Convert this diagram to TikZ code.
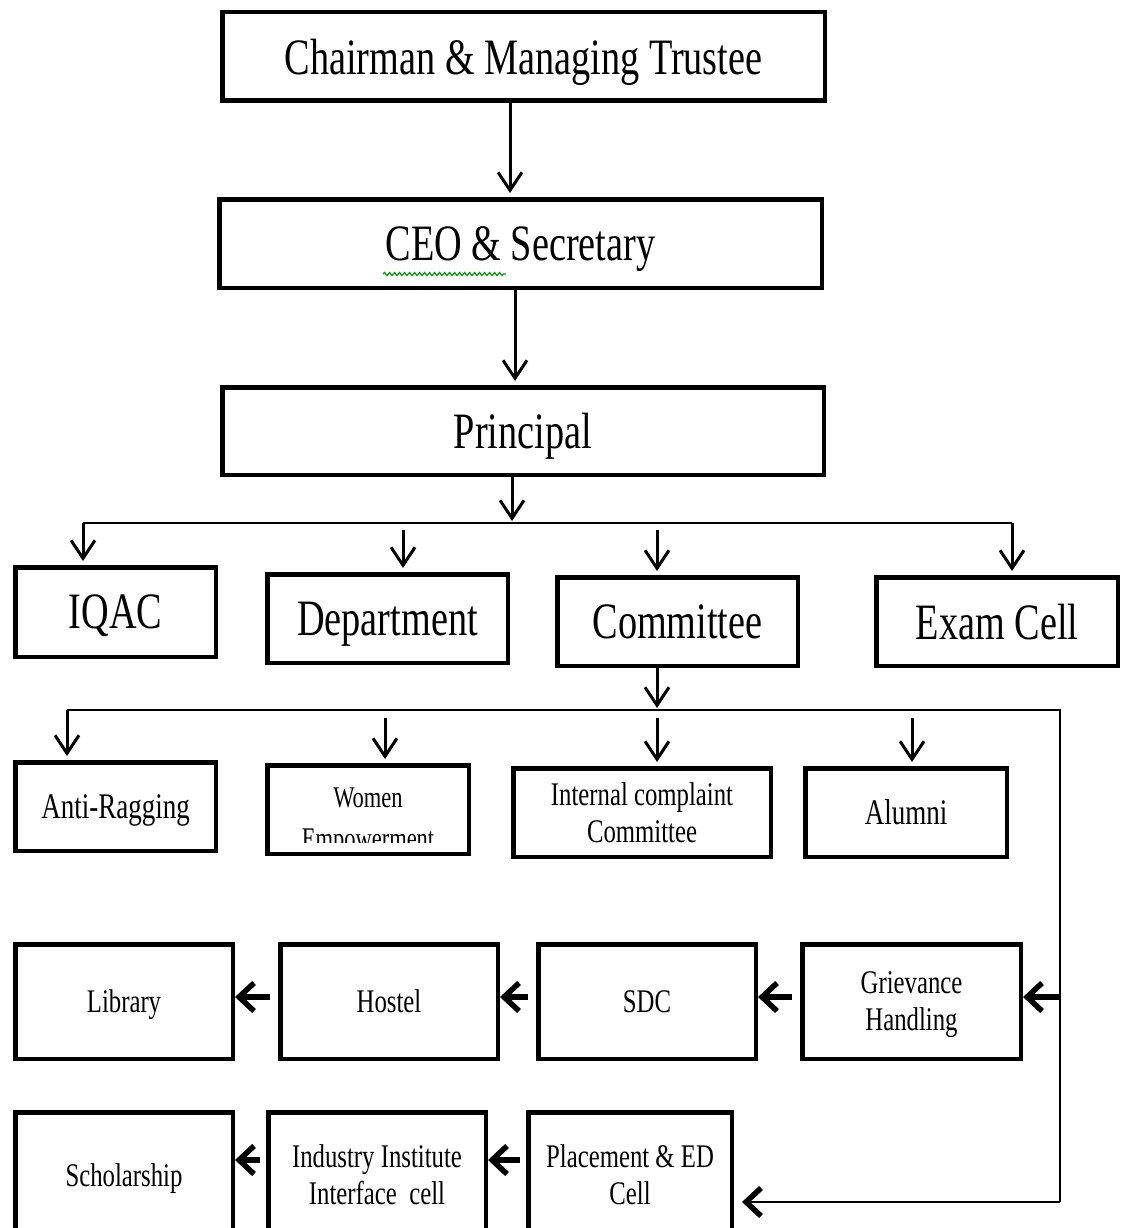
\documentclass[tikz,border=0pt]{standalone}
\usepackage{fontspec}
\setmainfont{Liberation Serif}[FakeStretch=0.75]
\usetikzlibrary{arrows.meta,decorations.pathmorphing}

\begin{document}
\begin{tikzpicture}[x=1pt,y=-1pt,
  office/.style={draw, line width=4.5pt, inner sep=0pt, align=center,
    text depth=0pt, minimum height=88.5pt, font=\fontsize{51}{55}\selectfont},
  cell/.style={draw, line width=4.5pt, inner sep=0pt, align=center,
    text depth=0pt, minimum height=88.5pt, font=\fontsize{33}{37}\selectfont},
  tall/.style={cell, minimum height=114.5pt},
  wire/.style={line width=2.5pt},
  down/.style={-{Straight Barb[length=18pt,width=24pt,line width=3pt]},
    line width=3pt, shorten >=4pt},
  back/.style={-{Straight Barb[length=15pt,width=28pt]}, line width=5.5pt},
  feed/.style={-{Straight Barb[length=15pt,width=28pt,line width=5.5pt]},
    line width=2.5pt}]
  \useasboundingbox (0,0) rectangle (1124,1228);
  \clip (0,0) rectangle (1124,1228);

  % top of the chart
  \node[office, minimum width=602.5pt] (chairman) at (523.5,56.5)
    {Chairman \& Managing Trustee};
  \node[office, minimum width=602.5pt] (ceo) at (520.5,243.5)
    {CEO \& Secretary};
  \node[office, minimum width=601.5pt, minimum height=87.5pt] (principal)
    at (523,431) {Principal};

  % first level
  \node[office, minimum width=200.5pt, minimum height=89.5pt] (iqac)
    at (115.5,612) {IQAC};
  \node[office, minimum width=240.5pt] (dept) at (387.5,618.5) {Department};
  \node[office, minimum width=240.5pt] (committee) at (677.5,621.5) {Committee};
  \node[office, minimum width=241.5pt] (exam) at (997,621.5) {Exam Cell};

  % committees
  \node[cell, minimum width=200.5pt, font=\fontsize{36}{40}\selectfont]
    (ragging) at (115.5,806.5) {Anti-Ragging};
  \node[cell, minimum width=201.5pt] (women) at (368,809.5) {};
  \begin{scope}
    \clip (women.north west) rectangle ([yshift=14pt]women.south east);
    \node[align=center, font=\fontsize{30}{41}\selectfont] (womentext)
      at (368,821) {Women\\Empowerment};
  \end{scope}
  \node[cell, minimum width=257.5pt] (icc) at (642,812.5)
    {Internal complaint\\Committee};
  \node[cell, minimum width=201.5pt, font=\fontsize{36}{40}\selectfont]
    (alumni) at (906,812.5) {Alumni};

  \node[tall, minimum width=217.5pt] (library) at (124,1001.5) {Library};
  \node[tall, minimum width=217.5pt] (hostel) at (389,1001.5) {Hostel};
  \node[tall, minimum width=217.5pt] (sdc) at (647,1001.5) {SDC};
  \node[tall, minimum width=218.5pt] (grievance) at (911.5,1001.5)
    {Grievance\\Handling};

  \node[tall, minimum width=217.5pt, minimum height=125.5pt] (scholarship)
    at (124,1175) {Scholarship};
  \node[tall, minimum width=217.5pt, minimum height=125.5pt] (iiic)
    at (377,1175) {Industry Institute\\Interface~~cell};
  \node[tall, minimum width=203.5pt, minimum height=125.5pt] (placement)
    at (630,1175) {Placement \& ED\\Cell};

  \draw[green!60!black, line width=1.2pt, decorate,
    decoration={snake, amplitude=1.5pt, segment length=5pt}]
    (383,274) -- (506,274);

  % connectors
  \coordinate (c1) at (510,0);
  \coordinate (c2) at (515,0);
  \draw[down] (c1 |- chairman.south) -- (c1 |- ceo.north);
  \draw[down] (c2 |- ceo.south) -- (c2 |- principal.north);

  \coordinate (bus1) at (512,523);
  \coordinate (bus1w) at (83,523);
  \coordinate (bus1e) at (1012,523);
  \coordinate (d2) at (403,530);
  \coordinate (d3) at (657,530);
  \draw[down, shorten >=2pt] (bus1 |- principal.south) -- (bus1);
  \draw[wire] (bus1w) -- (bus1e);
  \draw[down] (bus1w) -- (bus1w |- iqac.north);
  \draw[down] (d2) -- (d2 |- dept.north);
  \draw[down] (d3) -- (d3 |- committee.north);
  \draw[down] (bus1e) -- (bus1e |- exam.north);

  \coordinate (bus2) at (657,710);
  \coordinate (bus2w) at (67,710);
  \coordinate (bus2e) at (1060,710);
  \coordinate (rise) at (1060,1202);
  \coordinate (e2) at (385,718);
  \coordinate (e3) at (657,718);
  \coordinate (e4) at (912,718);
  \draw[down, shorten >=2pt] (bus2 |- committee.south) -- (bus2);
  \draw[wire] (bus2w) -- (bus2e) -- (rise);
  \draw[down] (bus2w) -- (bus2w |- ragging.north);
  \draw[down] (e2) -- (e2 |- women.north);
  \draw[down] (e3) -- (e3 |- icc.north);
  \draw[down] (e4) -- (e4 |- alumni.north);

  \coordinate (r3) at (1060,997);
  \coordinate (r4) at (0,1160);
  \draw[back] (r3) -- (r3 -| grievance.east);
  \draw[back, shorten <=8pt] (grievance.west |- r3) -- (sdc.east |- r3);
  \draw[back, shorten <=8pt] (sdc.west |- r3) -- (hostel.east |- r3);
  \draw[back, shorten <=8pt] (hostel.west |- r3) -- (library.east |- r3);
  \draw[back, shorten <=6pt] (placement.west |- r4) -- (iiic.east |- r4);
  \draw[back, shorten <=6pt] (iiic.west |- r4) -- (scholarship.east |- r4);
  \draw[feed, shorten >=8pt] (rise) -- (rise -| placement.east);
\end{tikzpicture}
\end{document}
